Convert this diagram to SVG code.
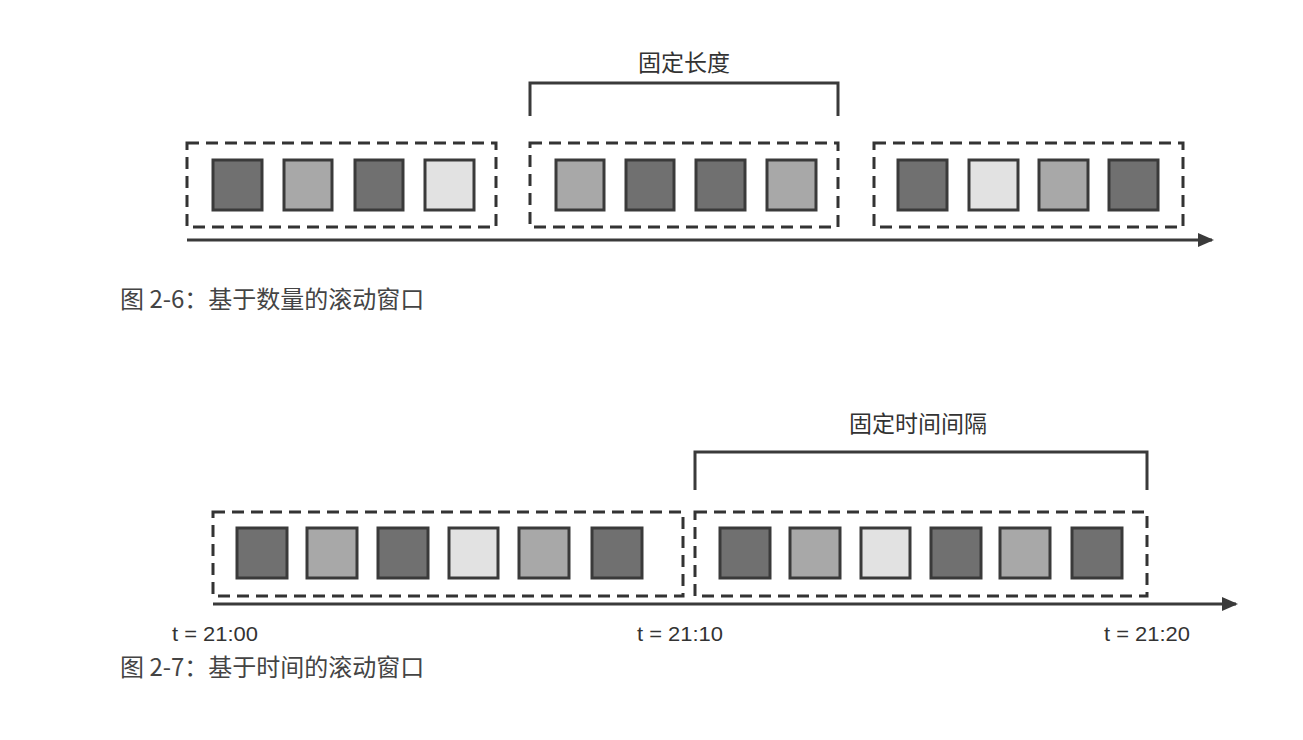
<svg xmlns="http://www.w3.org/2000/svg" width="1303" height="740" viewBox="0 0 1303 740">
<style>
.b{fill:none;stroke:#333;stroke-width:3;stroke-dasharray:12 7}
.s{stroke:#3a3a3a;stroke-width:3}
.D{fill:#707070}.M{fill:#a8a8a8}.L{fill:#e2e2e2}
.ln{fill:none;stroke:#3a3a3a;stroke-width:3}
.t{font-family:"Noto Sans CJK SC","Noto Sans",sans-serif;fill:#333;font-size:23px}
.c{font-family:"Noto Sans CJK SC","Noto Sans",sans-serif;fill:#444;font-size:24px}
.m{font-family:"Liberation Sans",sans-serif;fill:#333;font-size:21px}
</style>
<defs><marker id="ar" markerWidth="16" markerHeight="14" refX="14" refY="7" orient="auto" markerUnits="userSpaceOnUse"><path d="M0,0L16,7L0,14z" fill="#3a3a3a"/></marker></defs>
<rect width="1303" height="740" fill="#fff"/>
<g id="fig1">
<g id="w1"><rect class="b" x="187" y="143" width="309" height="84"/>
<rect class="s D" x="213" y="160" width="49" height="50"/><rect class="s M" x="284" y="160" width="48" height="50"/><rect class="s D" x="355" y="160" width="48" height="50"/><rect class="s L" x="425" y="160" width="49" height="50"/></g>
<g id="w2"><rect class="b" x="530" y="143" width="308" height="84"/>
<rect class="s M" x="556" y="160" width="48" height="50"/><rect class="s D" x="626" y="160" width="48" height="50"/><rect class="s D" x="696" y="160" width="49" height="50"/><rect class="s M" x="767" y="160" width="49" height="50"/></g>
<g id="w3"><rect class="b" x="874" y="143" width="309" height="84"/>
<rect class="s D" x="898" y="160" width="49" height="50"/><rect class="s L" x="969" y="160" width="49" height="50"/><rect class="s M" x="1039" y="160" width="49" height="50"/><rect class="s D" x="1109" y="160" width="49" height="50"/></g>
<text class="t" x="684" y="71" text-anchor="middle">固定长度</text>
<text class="c" x="120" y="308">图 2-6：基于数量的滚动窗口</text>
</g>
<g id="fig2">
<g id="w4"><rect class="b" x="213" y="512" width="470" height="84"/>
<rect class="s D" x="237" y="528" width="50" height="50"/><rect class="s M" x="307" y="528" width="50" height="50"/><rect class="s D" x="378" y="528" width="50" height="50"/><rect class="s L" x="449" y="528" width="49" height="50"/><rect class="s M" x="519" y="528" width="50" height="50"/><rect class="s D" x="592" y="528" width="50" height="50"/></g>
<g id="w5"><rect class="b" x="695" y="512" width="452" height="84"/>
<rect class="s D" x="720" y="528" width="50" height="50"/><rect class="s M" x="790" y="528" width="50" height="50"/><rect class="s L" x="861" y="528" width="49" height="50"/><rect class="s D" x="931" y="528" width="50" height="50"/><rect class="s M" x="1000" y="528" width="50" height="50"/><rect class="s D" x="1072" y="528" width="50" height="50"/></g>
<text class="t" x="918" y="432" text-anchor="middle">固定时间间隔</text>
<text class="m" x="215" y="641" text-anchor="middle" textLength="86" lengthAdjust="spacingAndGlyphs">t = 21:00</text>
<text class="m" x="680" y="641" text-anchor="middle" textLength="86" lengthAdjust="spacingAndGlyphs">t = 21:10</text>
<text class="m" x="1147" y="641" text-anchor="middle" textLength="86" lengthAdjust="spacingAndGlyphs">t = 21:20</text>
<text class="c" x="120" y="676">图 2-7：基于时间的滚动窗口</text>
</g>
<g id="connectors">
<path class="ln" d="M187,240H1212" marker-end="url(#ar)"/>
<path class="ln" d="M530,116V83H838V116"/>
<path class="ln" d="M213,604H1236" marker-end="url(#ar)"/>
<path class="ln" d="M695,490V452H1147V490"/>
</g>
</svg>
